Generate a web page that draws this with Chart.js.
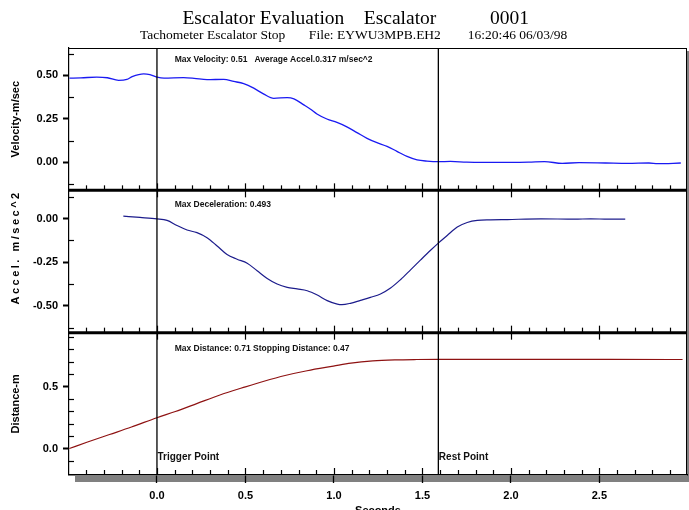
<!DOCTYPE html>
<html><head><meta charset="utf-8">
<script src="https://cdn.jsdelivr.net/npm/chart.js@4.4.1/dist/chart.umd.min.js"></script>
<style>
html,body{margin:0;padding:0;background:#fff;overflow:hidden;width:689px;height:510px;}
#wrap{position:absolute;left:0;top:0;width:689px;height:522px;}
canvas{display:block;}
</style></head><body>
<div id="wrap"><canvas id="c" width="689" height="522" style="width:689px;height:522px"></canvas></div>
<script>
// ---- data ----
const velTime = [-0.495, -0.43, -0.34, -0.28, -0.217, -0.17, -0.14, -0.075, -0.04, 0.0, 0.04, 0.15, 0.21, 0.283, 0.377, 0.434, 0.49, 0.547, 0.604, 0.66, 0.736, 0.774, 0.83, 0.868, 0.904, 0.96, 1.017, 1.073, 1.13, 1.187, 1.243, 1.3, 1.356, 1.413, 1.47, 1.526, 1.592, 1.658, 1.75, 1.85, 1.99, 2.1, 2.19, 2.29, 2.385, 2.534, 2.66, 2.78, 2.83, 2.96];
const velValues = [0.484, 0.485, 0.490, 0.486, 0.471, 0.476, 0.492, 0.508, 0.504, 0.490, 0.484, 0.487, 0.483, 0.475, 0.477, 0.465, 0.452, 0.426, 0.392, 0.368, 0.372, 0.365, 0.330, 0.305, 0.278, 0.249, 0.229, 0.204, 0.171, 0.138, 0.113, 0.092, 0.063, 0.034, 0.014, 0.007, 0.004, 0.005, 0.001, 0.0, 0.0, 0.001, 0.004, -0.006, -0.002, -0.004, -0.006, -0.004, -0.008, -0.004];

const accTime = [-0.19, -0.096, 0.0, 0.057, 0.113, 0.17, 0.226, 0.283, 0.34, 0.396, 0.453, 0.51, 0.566, 0.623, 0.679, 0.736, 0.792, 0.849, 0.906, 0.962, 1.019, 1.045, 1.093, 1.15, 1.206, 1.263, 1.32, 1.376, 1.433, 1.49, 1.546, 1.593, 1.64, 1.697, 1.753, 1.81, 1.885, 1.98, 2.17, 2.36, 2.45, 2.55, 2.646];
const accValues = [0.013, 0.006, -0.002, -0.011, -0.040, -0.066, -0.081, -0.110, -0.157, -0.206, -0.233, -0.256, -0.299, -0.343, -0.375, -0.394, -0.403, -0.413, -0.438, -0.470, -0.490, -0.493, -0.485, -0.468, -0.451, -0.432, -0.398, -0.350, -0.294, -0.237, -0.182, -0.138, -0.097, -0.049, -0.023, -0.011, -0.008, -0.006, -0.002, -0.004, -0.002, -0.004, -0.004];

const distTime = [-0.495, -0.392, -0.268, -0.144, 0.0, 0.104, 0.228, 0.352, 0.5, 0.6, 0.724, 0.848, 0.997, 1.096, 1.22, 1.344, 1.468, 1.59, 2.0, 2.5, 2.97];
const distValues = [0.003, 0.055, 0.115, 0.175, 0.25, 0.30, 0.365, 0.43, 0.497, 0.54, 0.588, 0.626, 0.663, 0.687, 0.705, 0.713, 0.716, 0.717, 0.717, 0.717, 0.716];

const markerTimes = [0, 1.59];
const markerLabels = ['Trigger Point', 'Rest Point'];
const panelNotes = ['Max Velocity: 0.51   Average Accel.0.317 m/sec^2', 'Max Deceleration: 0.493', 'Max Distance: 0.71 Stopping Distance: 0.47'];
const axisTitles = ['Velocity-m/sec', 'Accel. m/sec^2', 'Distance-m', 'Seconds'];
const titleText = '     Escalator Evaluation    Escalator           0001';
const subtitleText = '      Tachometer Escalator Stop       File: EYWU3MPB.EH2        16:20:46 06/03/98';

// ---- styling ----
const SANS = "'Liberation Sans', Arial, Helvetica, sans-serif";
const SERIF = "'Liberation Serif', 'Times New Roman', serif";
const TICKFONT = {family: SANS, size: 11, weight: 'bold'};

function pts(t, v) { return t.map((x, i) => ({x: x, y: v[i]})); }

function line(ctx, x1, y1, x2, y2) { ctx.beginPath(); ctx.moveTo(x1, y1); ctx.lineTo(x2, y2); ctx.stroke(); }
function isMult(v, step) { return Math.abs(Math.round(v / step) * step - v) < 1e-7; }

const decor = {
  id: 'decor',
  beforeDraw(chart) {
    const {ctx, chartArea: a} = chart;
    ctx.save();
    ctx.fillStyle = '#808080';
    ctx.fillRect(a.right, a.top + 3, chart.width - a.right, a.bottom - a.top + 4);
    ctx.fillRect(a.left + 6, a.bottom + 1, chart.width - a.left - 6, 6);
    ctx.restore();
    const s = chart.scales.yA;
    if (s && !s.__spaced) {
      const orig = s.drawTitle;
      s.drawTitle = function () { const c = this.ctx; c.save(); c.letterSpacing = '2.5px'; orig.call(this); c.restore(); };
      s.__spaced = true;
    }
  },
  afterDatasetsDraw(chart, args, opts) {
    const {ctx, chartArea: a, scales} = chart;
    const xs = scales.x;
    const panels = opts.panels.map(p => Object.assign({scale: scales[p.id]}, p));
    ctx.save();
    ctx.strokeStyle = '#000';
    // frame
    ctx.lineWidth = 1;
    line(ctx, a.left, a.top + 0.5, a.right, a.top + 0.5);
    line(ctx, a.right - 0.5, a.top, a.right - 0.5, a.bottom);
    // thick panel separators
    ctx.lineWidth = 3;
    for (let i = 0; i < panels.length - 1; i++) {
      const yb = panels[i].scale.bottom;
      line(ctx, a.left, yb, a.right, yb);
    }
    // x ticks at each panel bottom
    ctx.lineWidth = 1.2;
    const k0 = Math.ceil(xs.min / 0.1 - 1e-9), k1 = Math.floor(xs.max / 0.1 + 1e-9);
    panels.forEach((p, i) => {
      const yb = p.scale.bottom;
      const last = i === panels.length - 1;
      for (let k = k0; k <= k1; k++) {
        const v = k * 0.1;
        const px = Math.round(xs.getPixelForValue(v)) + 0.5;
        if (isMult(v, 0.5)) line(ctx, px, yb - 7, px, last ? yb : yb + 7);
        else line(ctx, px, yb - 5, px, yb);
      }
    });
    // y minor ticks (inward)
    ctx.lineWidth = 1.2;
    panels.forEach(p => {
      const s = p.scale;
      const m0 = Math.ceil(s.min / p.minor - 1e-9), m1 = Math.floor(s.max / p.minor + 1e-9);
      for (let m = m0; m <= m1; m++) {
        const v = m * p.minor;
        if (isMult(v, p.major)) continue;
        const py = Math.round(s.getPixelForValue(v)) + 0.5;
        if (py < s.top + 2 || py > s.bottom - 2) continue;
        line(ctx, a.left, py, a.left + 5, py);
      }
    });
    // event markers
    ctx.lineWidth = 1.3;
    markerTimes.forEach(t => {
      const px = xs.getPixelForValue(t);
      line(ctx, px, a.top, px, a.bottom);
    });
    // texts
    ctx.fillStyle = '#111';
    ctx.textBaseline = 'middle';
    ctx.textAlign = 'left';
    ctx.font = 'bold 8.5px ' + SANS;
    panels.forEach((p, i) => {
      ctx.fillText(panelNotes[i], xs.getPixelForValue(opts.noteX), p.scale.getPixelForValue(p.noteY));
    });
    ctx.font = 'bold 10px ' + SANS;
    const ds = scales[opts.markerScale];
    markerTimes.forEach((t, i) => {
      ctx.fillText(markerLabels[i], xs.getPixelForValue(t) + 0.5, ds.getPixelForValue(opts.markerY));
    });
    ctx.restore();
  }
};

function yAxis(weight, min, max, step, digits, title, titleOpts) {
  return Object.assign({
    type: 'linear', position: 'left', stack: 'panels', stackWeight: 1, weight: weight,
    min: min, max: max,
    ticks: {stepSize: step, includeBounds: false, font: TICKFONT, color: '#000', padding: 5,
            callback: v => Number(v).toFixed(digits)},
    grid: {drawOnChartArea: false, drawTicks: true, tickLength: 6, tickWidth: 2, tickColor: '#000'},
    border: {display: true, color: '#000', width: 1.2},
    title: Object.assign({display: true, text: title, font: TICKFONT, color: '#000', padding: {top: 9, bottom: 0}}, titleOpts || {}),
    afterFit(s) { s.width = 69; }
  });
}

Chart.defaults.color = '#000';
new Chart(document.getElementById('c'), {
  type: 'line',
  data: {
    datasets: [
      {label: 'Velocity', data: pts(velTime, velValues), yAxisID: 'yV', borderColor: '#1a1af2', borderWidth: 1.3, pointRadius: 0, cubicInterpolationMode: 'monotone'},
      {label: 'Accel', data: pts(accTime, accValues), yAxisID: 'yA', borderColor: '#1c1c8c', borderWidth: 1.2, pointRadius: 0, cubicInterpolationMode: 'monotone'},
      {label: 'Distance', data: pts(distTime, distValues), yAxisID: 'yD', borderColor: '#8e1212', borderWidth: 1.2, pointRadius: 0, cubicInterpolationMode: 'monotone'}
    ]
  },
  options: {
    responsive: false, animation: false, events: [],
    layout: {padding: {left: 0, right: 2, top: 0, bottom: 0}},
    plugins: {
      legend: {display: false}, tooltip: {enabled: false},
      title: {display: true, text: titleText, color: '#000', font: {family: SERIF, size: 19.5, weight: 'normal', lineHeight: 1}, padding: {top: 9.25, bottom: 0}},
      subtitle: {display: true, text: subtitleText, color: '#000', font: {family: SERIF, size: 13.5, weight: 'normal', lineHeight: 1}, padding: {top: 0, bottom: 5.75}},
      decor: {
        panels: [
          {id: 'yV', minor: 0.125, major: 0.25, noteY: 0.589},
          {id: 'yA', minor: 0.125, major: 0.25, noteY: 0.077},
          {id: 'yD', minor: 0.1, major: 0.5, noteY: 0.80}
        ],
        noteX: 0.1, markerScale: 'yD', markerY: -0.064
      }
    },
    scales: {
      x: {
        type: 'linear', position: 'bottom', min: -0.497, max: 2.995,
        ticks: {stepSize: 0.5, includeBounds: false, font: TICKFONT, color: '#000', padding: 6, maxRotation: 0, autoSkip: false,
                callback: v => Number(v).toFixed(1)},
        grid: {drawOnChartArea: false, drawTicks: true, tickLength: 8, tickWidth: 1.3, tickColor: '#000'},
        border: {display: true, color: '#000', width: 1.5},
        title: {display: true, text: axisTitles[3], font: TICKFONT, color: '#000', padding: {top: 0, bottom: 4.5}},
        afterFit(s) { s.height = 47; }
      },
      yV: yAxis(3, -0.161, 0.657, 0.25, 2, axisTitles[0]),
      yA: yAxis(2, -0.653, 0.161, 0.25, 2, axisTitles[1], {align: 'end'}),
      yD: yAxis(1, -0.209, 0.931, 0.5, 1, axisTitles[2])
    }
  },
  plugins: [decor]
});
</script>
</body></html>
